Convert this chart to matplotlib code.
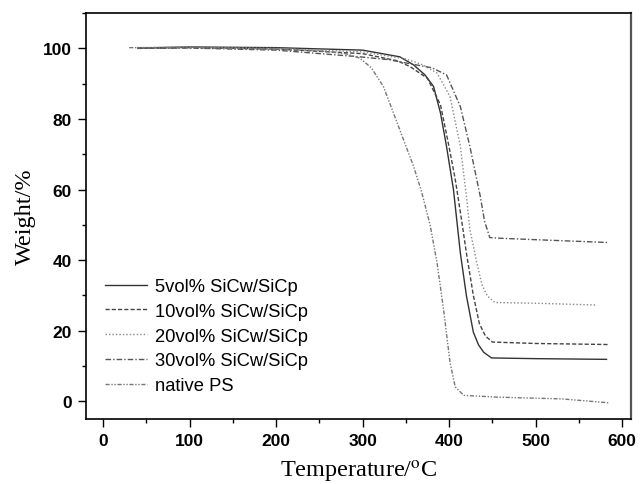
import matplotlib
matplotlib.use("Agg")
import matplotlib.pyplot as plt
from matplotlib.ticker import MultipleLocator

# TGA curves (temperature in C, weight in %)
t_5 = [40, 100, 200, 300, 343, 359, 372, 382, 390, 397, 405, 409, 413, 420, 428, 434, 440, 449, 500, 582]
w_5 = [100.1, 100.4, 100.2, 99.5, 97.6, 95.3, 92.5, 89.2, 81.7, 72.2, 60, 51, 42, 29.9, 19.6, 16, 13.9, 12.3, 12.1, 11.9]

t_10 = [40, 100, 200, 300, 340, 355, 375, 390, 400, 407, 414, 420, 428, 435, 442, 450, 500, 584]
w_10 = [100.0, 100.2, 99.8, 98.5, 96.5, 94.8, 91.5, 84, 72, 63, 52, 42, 30, 22, 18.5, 16.8, 16.4, 16.1]

t_20 = [40, 100, 200, 300, 350, 370, 386, 401, 413, 420, 424, 432, 438, 444, 453, 500, 569]
w_20 = [100.1, 100.3, 100.0, 99.0, 97, 95.3, 93, 86.4, 72.2, 58.1, 48.7, 39.3, 33, 29.9, 28, 27.8, 27.3]

t_30 = [40, 100, 200, 297, 330, 358, 380, 397, 413, 424, 436, 441, 444, 447, 460, 500, 584]
w_30 = [100.0, 100.1, 99.5, 97.6, 96.8, 95.5, 94.5, 92.5, 83.5, 72.2, 58.1, 51, 48.7, 46.4, 46.2, 45.8, 45]

t_ps = [30, 100, 200, 250, 280, 297, 310, 324, 343, 359, 368, 378, 386, 394, 401, 407, 417, 455, 530, 584]
w_ps = [100.2, 100.3, 99.8, 99.3, 98.5, 97.2, 94.5, 89.2, 76.9, 66.5, 59.5, 50, 39.3, 25.2, 11.1, 4.1, 1.7, 1.2, 0.7, -0.4]

labels = ["5vol% SiCw/SiCp", "10vol% SiCw/SiCp", "20vol% SiCw/SiCp",
          "30vol% SiCw/SiCp", "native PS"]

plt.rcParams['mathtext.fontset'] = 'stix'

fig = plt.figure(figsize=(6.41, 4.85), dpi=100)
ax = fig.add_axes([0.134, 0.134, 0.850, 0.837])

ax.plot(t_5, w_5, color='#333333', lw=1.0, ls='-', label=labels[0])
ax.plot(t_10, w_10, color='#444444', lw=1.0, ls=(0, (3, 1.5)), label=labels[1])
ax.plot(t_20, w_20, color='#888888', lw=1.0, ls=(0, (1, 1.5)), label=labels[2])
ax.plot(t_30, w_30, color='#555555', lw=1.0, ls=(0, (4, 1.5, 1, 1.5)), label=labels[3])
ax.plot(t_ps, w_ps, color='#777777', lw=1.0, ls=(0, (3, 1.2, 1, 1.2, 1, 1.2)), label=labels[4])

ax.set_xlim(-20, 610)
ax.set_ylim(-5, 110)
ax.xaxis.set_major_locator(MultipleLocator(100))
ax.xaxis.set_minor_locator(MultipleLocator(50))
ax.yaxis.set_major_locator(MultipleLocator(20))
ax.yaxis.set_minor_locator(MultipleLocator(10))
ax.tick_params(which='major', direction='out', length=6, width=1, pad=4,
               top=False, right=False)
ax.tick_params(which='minor', direction='out', length=3, width=1,
               top=False, right=False)
for lab in ax.get_xticklabels() + ax.get_yticklabels():
    lab.set_fontfamily('Liberation Sans')
    lab.set_fontweight('bold')
    lab.set_fontsize(12.5)
for sp in ax.spines.values():
    sp.set_linewidth(1.2)
ax.spines['right'].set_color('#555555')
ax.spines['right'].set_linewidth(1.6)

ax.set_xlabel(r'Temperature/$^{\rm o}$C', fontfamily='Liberation Serif', fontsize=17.5, labelpad=7)
ax.set_ylabel('Weight/%', fontfamily='Liberation Serif', fontsize=17.5, labelpad=5)

ax.legend(loc='upper left', bbox_to_anchor=(0.022, 0.365), frameon=False,
          prop={'family': 'Liberation Sans', 'size': 13.2},
          handlelength=2.3, handletextpad=0.42, labelspacing=0.42, borderaxespad=0)

fig.savefig('out.png', dpi=100)
